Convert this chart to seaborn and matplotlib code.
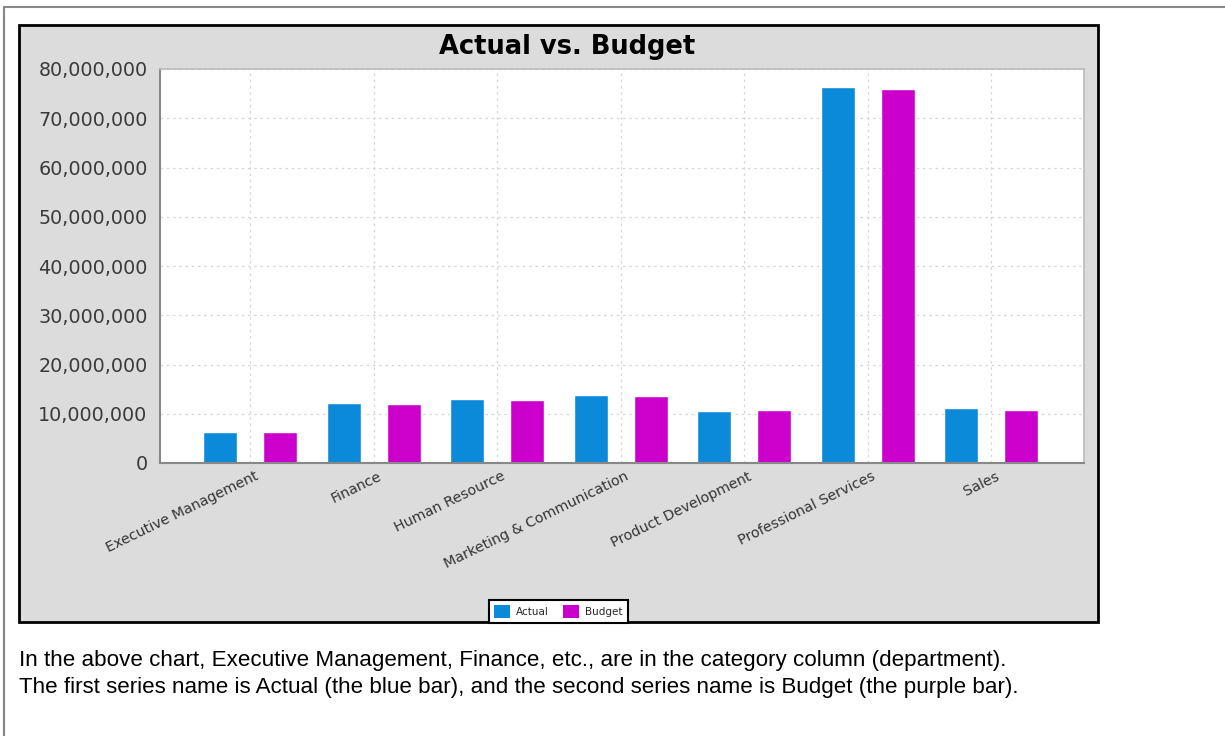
import matplotlib
matplotlib.use("Agg")
import matplotlib.pyplot as plt
import matplotlib.ticker as mticker
from matplotlib.patches import Rectangle, Patch
from matplotlib.lines import Line2D
from matplotlib.transforms import ScaledTranslation
import pandas as pd
import seaborn as sns

# data
departments = ["Executive Management", "Finance", "Human Resource",
               "Marketing & Communication", "Product Development",
               "Professional Services", "Sales"]
actual = [6200000, 12100000, 13000000, 13750000, 10550000, 76300000, 11200000]
budget = [6350000, 11900000, 12800000, 13600000, 10700000, 76000000, 10850000]
series = ["Actual", "Budget"]
colors = ["#0B8AD9", "#CC00CC"]
yticks = list(range(0, 80000001, 10000000))

df = pd.DataFrame({
    "Department": departments * 2,
    "Amount": actual + budget,
    "Series": ["Actual"] * len(departments) + ["Budget"] * len(departments),
})

sns.set_style("white")
plt.rcParams["font.family"] = ["DejaVu Sans"]

W, H = 1225, 736
fig = plt.figure(figsize=(W / 100, H / 100), dpi=100, facecolor="white")

def fx(px):
    return px / W

def fy(py):
    return 1 - py / H

# outer page border (top and left only)
fig.add_artist(Line2D([fx(4), fx(4)], [0, fy(7)], color="#888888", lw=1.5))
fig.add_artist(Line2D([fx(4), 1], [fy(7), fy(7)], color="#888888", lw=1.5))

# chart panel
panel = Rectangle((fx(19), fy(622)), fx(1098) - fx(19), fy(25) - fy(622),
                  transform=fig.transFigure, facecolor="#DCDCDC",
                  edgecolor="black", lw=2, zorder=0)
fig.add_artist(panel)

ax = fig.add_axes([fx(160), fy(463), fx(1084) - fx(160), fy(69) - fy(463)])
ax.set_facecolor("white")
ax.set_zorder(1)

sns.barplot(data=df, x="Department", y="Amount", hue="Series",
            palette=colors, saturation=1, width=0.97, gap=0.43,
            legend=False, ax=ax)

ax.set_xlim(-0.73, 6.75)
ax.set_ylim(0, 80000000)
ax.set_yticks(yticks)
ax.yaxis.set_major_formatter(mticker.FuncFormatter(lambda v, p: f"{int(v):,}"))
ax.set_xlabel("")
ax.set_ylabel("")

ax.grid(True, linestyle=(0, (2, 3)), color="#D6D6D6", lw=0.9)
ax.set_axisbelow(True)
for side in ["top", "right"]:
    ax.spines[side].set_color("#BBBBBB")
    ax.spines[side].set_linewidth(1.2)
for side in ["left", "bottom"]:
    ax.spines[side].set_color("#888888")
    ax.spines[side].set_linewidth(1.5)

ax.tick_params(axis="y", length=4, width=1, color="#888888", labelsize=13.8,
               labelcolor="#3A3A3A", pad=5)
ax.tick_params(axis="x", length=0, pad=9)
ax.set_xticks(range(len(departments)))
ax.set_xticklabels(departments, rotation=26, ha="right", va="center",
                   rotation_mode="anchor", fontsize=10.3, color="#333333")
shift = ScaledTranslation(0.07, 0, fig.dpi_scale_trans)
for lab in ax.get_xticklabels():
    lab.set_transform(lab.get_transform() + shift)

fig.text(fx(567), fy(47), "Actual vs. Budget", ha="center", va="center",
         fontsize=18.5, fontweight="bold", color="black")

handles = [Patch(facecolor=c, edgecolor="none", label=s) for s, c in zip(series, colors)]
leg = fig.legend(handles=handles, loc="lower center",
                 bbox_to_anchor=(fx(558.5), fy(623)), ncol=2, fontsize=7.5,
                 frameon=True, fancybox=False, edgecolor="black",
                 handlelength=1.5, handleheight=1.5, columnspacing=1.4,
                 handletextpad=0.6, borderpad=0.5, borderaxespad=0)
leg.get_frame().set_linewidth(1.5)
leg.get_frame().set_facecolor("white")
leg.get_frame().set_alpha(1)
leg.set_zorder(5)

caption = ("In the above chart, Executive Management, Finance, etc., are in the category column (department).\n"
           "The first series name is Actual (the blue bar), and the second series name is Budget (the purple bar).")
fig.text(fx(19), fy(674), caption, ha="left", va="center", fontsize=16.1,
         family=["Liberation Sans"], linespacing=1.38, color="black")

fig.savefig("out.png", dpi=100, facecolor="white")
